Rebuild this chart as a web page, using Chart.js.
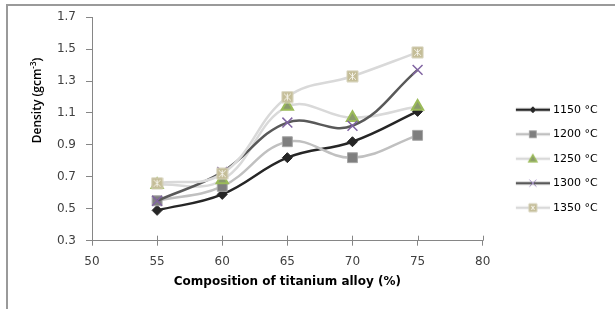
<!DOCTYPE html>
<html>
<head>
<meta charset="utf-8">
<script src="https://cdn.jsdelivr.net/npm/chart.js@4.4.0/dist/chart.umd.min.js"></script>
<style>
  html, body { margin: 0; padding: 0; background: #fff; }
  #wrap { position: relative; width: 615px; height: 309px; overflow: hidden; }
  #frame { position: absolute; left: 6px; top: 4px; width: 700px; height: 400px;
           border-top: 2px solid #9a9a9a; border-left: 2px solid #9a9a9a; pointer-events: none; }
</style>
</head>
<body>
<div id="wrap">
  <canvas id="chart" width="615" height="309"></canvas>
  <div id="frame"></div>
</div>
<script>
// values
const composition = [55, 60, 65, 70, 75];
const seriesLabels = ['1150 °C', '1200 °C', '1250 °C', '1300 °C', '1350 °C'];
const d1150 = [0.49, 0.59, 0.82, 0.92, 1.11];
const d1200 = [0.55, 0.64, 0.92, 0.82, 0.96];
const d1250 = [0.65, 0.68, 1.14, 1.07, 1.14];
const d1300 = [0.55, 0.73, 1.04, 1.02, 1.37];
const d1350 = [0.66, 0.72, 1.20, 1.33, 1.48];
const xTicks = [50, 55, 60, 65, 70, 75, 80];
const yTicks = [0.3, 0.5, 0.7, 0.9, 1.1, 1.3, 1.5, 1.7];

const axisColor = '#868686';
const textColor = '#404040';
const plotRight = 482.7; // where the x axis ends in the reference

// one style per series: line colour + marker look
const styles = [
  { line: '#262626', shape: 'diamond',  fill: '#262626', stroke: '#262626', lw: 1 },
  { line: '#c0c0c0', shape: 'square',   fill: '#7f7f7f', stroke: '#a6a6a6', lw: 1 },
  { line: '#d9d9d9', shape: 'triangle', fill: '#8a9a6c', stroke: '#9bbb59', lw: 1.5 },
  { line: '#595959', shape: 'cross',    fill: '#8064a2', stroke: '#9c88bd', lw: 1 },
  { line: '#d9d9d9', shape: 'square',   fill: '#c4bd97', stroke: '#d6d2bb', lw: 1, star: true }
];

function paintMarker(ctx, s, cx, cy, r) {
  ctx.save();
  ctx.fillStyle = s.fill;
  ctx.strokeStyle = s.stroke;
  ctx.lineWidth = s.lw;
  ctx.beginPath();
  if (s.shape === 'diamond') {
    ctx.moveTo(cx, cy - r); ctx.lineTo(cx + r, cy); ctx.lineTo(cx, cy + r); ctx.lineTo(cx - r, cy);
    ctx.closePath(); ctx.fill(); ctx.stroke();
  } else if (s.shape === 'square') {
    ctx.rect(cx - r, cy - r, 2 * r, 2 * r); ctx.fill(); ctx.stroke();
    if (s.star) {
      ctx.strokeStyle = '#f4f2e8';
      ctx.lineWidth = 1;
      ctx.beginPath();
      ctx.moveTo(cx - r + 2, cy - r + 2); ctx.lineTo(cx + r - 2, cy + r - 2);
      ctx.moveTo(cx + r - 2, cy - r + 2); ctx.lineTo(cx - r + 2, cy + r - 2);
      ctx.moveTo(cx, cy - r + 2); ctx.lineTo(cx, cy + r - 2);
      ctx.stroke();
    }
  } else if (s.shape === 'triangle') {
    ctx.moveTo(cx, cy - r); ctx.lineTo(cx + r, cy + r * 0.75); ctx.lineTo(cx - r, cy + r * 0.75);
    ctx.closePath(); ctx.fill(); ctx.stroke();
  } else if (s.shape === 'cross') {
    ctx.moveTo(cx - r, cy - r); ctx.lineTo(cx + r, cy + r);
    ctx.moveTo(cx + r, cy - r); ctx.lineTo(cx - r, cy + r);
    ctx.stroke();
  }
  ctx.restore();
}

// the 1350 markers carry a small pattern, so they are a tiny image
const starSquare = document.createElement('canvas');
starSquare.width = 13; starSquare.height = 13;
paintMarker(starSquare.getContext('2d'), styles[4], 6.5, 6.5, 5.5);

// legend icons: short line with the marker in its middle
const legendSizes = [3, 3.5, 4, 3.5, 4];
const legendIcons = styles.map((s, i) => {
  const c = document.createElement('canvas');
  c.width = 56; c.height = 12;
  const ctx = c.getContext('2d');
  ctx.strokeStyle = s.line;
  ctx.lineWidth = 2.5;
  ctx.beginPath(); ctx.moveTo(22, 6); ctx.lineTo(56, 6); ctx.stroke();
  paintMarker(ctx, s, 39, 6, legendSizes[i]);
  return c;
});

const pts = arr => composition.map((x, i) => ({ x: x, y: arr[i] }));

const datasets = [
  { label: seriesLabels[0], data: pts(d1150), pointStyle: 'rectRot', pointRadius: 5,
    pointBackgroundColor: styles[0].fill, pointBorderColor: styles[0].stroke, order: 5 },
  { label: seriesLabels[1], data: pts(d1200), pointStyle: 'rect', pointRadius: 7,
    pointBackgroundColor: styles[1].fill, pointBorderColor: styles[1].stroke, order: 4 },
  { label: seriesLabels[2], data: pts(d1250), pointStyle: 'triangle', pointRadius: 6.5, pointBorderWidth: 2,
    pointBackgroundColor: styles[2].fill, pointBorderColor: styles[2].stroke, order: 3 },
  { label: seriesLabels[3], data: pts(d1300), pointStyle: 'crossRot', pointRadius: 7, pointBorderWidth: 1.5,
    pointBackgroundColor: styles[3].fill, pointBorderColor: styles[3].fill, order: 2 },
  { label: seriesLabels[4], data: pts(d1350), pointStyle: starSquare, pointRadius: 6,
    pointBackgroundColor: styles[4].fill, pointBorderColor: styles[4].stroke, order: 1 }
].map((ds, i) => Object.assign({
  borderColor: styles[i].line,
  borderWidth: 2.5,
  tension: 0.4,
  fill: false,
  pointBorderWidth: 1,
  pointHoverRadius: 7
}, ds));

// upper half of the x ticks (Excel draws them across the axis) and the y title with superscript
const axisExtras = {
  id: 'axisExtras',
  beforeDatasetsDraw(chart) {
    const ctx = chart.ctx;
    const x = chart.scales.x;
    const yAxis = chart.chartArea.bottom;
    ctx.save();
    ctx.strokeStyle = axisColor;
    ctx.lineWidth = 1;
    ctx.beginPath();
    xTicks.slice(1).forEach(v => {
      const px = Math.round(x.getPixelForValue(v)) + 0.5;
      ctx.moveTo(px, yAxis); ctx.lineTo(px, yAxis - 5);
    });
    ctx.stroke();
    ctx.restore();
  },
  afterDraw(chart) {
    const ctx = chart.ctx;
    const main = '600 12px "Open Sans"';
    const sup = '600 8px "Open Sans"';
    const a = 'Density (gcm', b = '-3', c = ')';
    ctx.save();
    ctx.font = main; const wa = ctx.measureText(a).width; const wc = ctx.measureText(c).width;
    ctx.font = sup; const wb = ctx.measureText(b).width;
    const total = wa + wb + wc;
    ctx.translate(38, 100.5);
    ctx.rotate(-Math.PI / 2);
    ctx.fillStyle = '#000';
    ctx.textBaseline = 'middle';
    ctx.textAlign = 'left';
    let cx = -total / 2;
    ctx.font = main; ctx.fillText(a, cx, 0); cx += wa;
    ctx.font = sup; ctx.fillText(b, cx, -4); cx += wb;
    ctx.font = main; ctx.fillText(c, cx, 0);
    ctx.restore();
  }
};

const chart = new Chart(document.getElementById('chart'), {
  type: 'line',
  data: { datasets: datasets },
  plugins: [axisExtras],
  options: {
    responsive: false,
    animation: false,
    layout: { padding: { top: 15.7, right: 10, bottom: 0, left: 0 } },
    plugins: {
      tooltip: { enabled: false },
      legend: {
        position: 'right',
        align: 'start',
        title: { display: true, text: '', padding: { top: 60.6, bottom: 0 }, font: { size: 12 } },
        labels: {
          usePointStyle: true,
          pointStyleWidth: 51.3,
          padding: 13.5,
          color: '#000',
          font: { family: 'DejaVu Sans', size: 11 },
          generateLabels: chart => chart.data.datasets.map((ds, i) => ({
            text: ds.label,
            pointStyle: legendIcons[i],
            datasetIndex: i,
            hidden: false,
            lineWidth: 0,
            fontColor: '#000',
            fillStyle: 'rgba(0,0,0,0)',
            strokeStyle: 'rgba(0,0,0,0)'
          }))
        }
      }
    },
    scales: {
      x: {
        type: 'linear',
        min: 50, max: 80,
        afterBuildTicks: s => { s.ticks = xTicks.map(v => ({ value: v })); },
        afterFit: s => { s.height = 68.3; },
        grid: { drawOnChartArea: false, drawTicks: true, tickLength: 5, color: axisColor },
        border: { display: true, color: axisColor, width: 1 },
        ticks: { padding: 9, color: textColor, font: { family: 'DejaVu Sans', size: 12 },
                 maxRotation: 0, callback: v => String(v) },
        title: { display: true, text: 'Composition of titanium alloy (%)', color: '#000',
                 font: { family: 'DejaVu Sans', size: 12, weight: 'bold' }, padding: { top: 0, bottom: 20 } }
      },
      y: {
        type: 'linear',
        min: 0.3, max: 1.7,
        afterBuildTicks: s => { s.ticks = yTicks.map(v => ({ value: v })); },
        afterFit: s => { s.width = 92; },
        grid: { drawOnChartArea: false, drawTicks: true, tickLength: 6, color: axisColor },
        border: { display: true, color: axisColor, width: 1 },
        ticks: { padding: 10, color: textColor, font: { family: 'DejaVu Sans', size: 12 },
                 callback: v => Number(v).toFixed(1) }
      }
    }
  }
});

// pin the plot's right edge to where the reference has it, leaving the rest to the legend
chart.options.layout.padding.right += chart.chartArea.right - plotRight;
chart.update();
</script>
</body>
</html>
